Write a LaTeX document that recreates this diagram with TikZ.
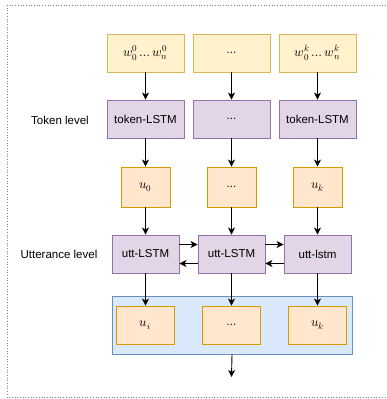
\documentclass[tikz,border=0pt]{standalone}
\usepackage{fontspec}
\setmainfont{Liberation Sans}
\usepackage{unicode-math}
\setmathfont{Latin Modern Math}
\usetikzlibrary{arrows.meta}
\definecolor{yelF}{HTML}{FFF2CC}\definecolor{yelD}{HTML}{D6B656}
\definecolor{purF}{HTML}{E1D5E7}\definecolor{purD}{HTML}{9673A6}
\definecolor{oraF}{HTML}{FFE6CC}\definecolor{oraD}{HTML}{D79B00}
\definecolor{bluF}{HTML}{DAE8FC}\definecolor{bluD}{HTML}{6C8EBF}
\tikzset{
  box/.style={draw, line width=0.9pt, inner sep=0pt, font=\fontsize{11.5}{13}\selectfont},
  wbox/.style={box, fill=yelF, draw=yelD, minimum width=77pt, minimum height=38pt},
  pbox/.style={box, fill=purF, draw=purD, minimum width=77pt, minimum height=38pt},
  ubox/.style={box, fill=purF, draw=purD, minimum width=67pt, minimum height=38pt},
  obox/.style={box, fill=oraF, draw=oraD, minimum width=49pt, minimum height=40pt},
  ibox/.style={box, fill=oraF, draw=oraD, minimum width=58pt, minimum height=38pt},
  mth/.style={font=\fontsize{13}{15}\selectfont},
  lbl/.style={font=\fontsize{11.5}{13}\selectfont, inner sep=0pt},
  arr/.style={-{Stealth[length=7pt,width=7pt,inset=2pt]}, line width=0.9pt},
}
\begin{document}
\begin{tikzpicture}[x=1pt,y=-1pt]
\useasboundingbox (0,0) rectangle (386,399);
\draw[dotted, line width=0.7pt, gray] (7,5) -- (392,5);
\draw[dotted, line width=0.7pt, gray] (7,5) -- (7,397) -- (392,397);
% container
\node[box, fill=bluF, draw=bluD, minimum width=240pt, minimum height=58pt] (cont) at (232,325) {};
% row 1
\node[wbox, mth] (w1) at (145.5,53) {$w_0^0\ldots w_n^0$};
\node[wbox] (w2) at (231.5,53) {...};
\node[wbox, mth] (w3) at (317.5,53) {$w_0^k\ldots w_n^k$};
% row 2
\node[pbox] (t1) at (145.5,119) {token-LSTM};
\node[pbox] (t2) at (231.5,119) {...};
\node[pbox] (t3) at (317.5,119) {token-LSTM};
% row 3
\node[obox, mth] (u1) at (145.5,187) {$u_0$};
\node[obox] (u2) at (231.5,187) {...};
\node[obox, mth] (u3) at (317.5,187) {$u_k$};
% row 4
\node[ubox] (s1) at (145.5,254) {utt-LSTM};
\node[ubox] (s2) at (231.5,254) {utt-LSTM};
\node[ubox] (s3) at (317.5,254) {utt-lstm};
% inner
\node[ibox, mth] (i1) at (145.5,325) {$u_i$};
\node[ibox] (i2) at (231.5,325) {...};
\node[ibox, mth] (i3) at (317.5,325) {$u_k$};
% labels
\node[lbl] (lt) at (60,120) {Token level};
\node[lbl] (lu) at (59,254) {Utterance level};
\coordinate (out) at (231.5,377);
% arrows
\foreach \a/\b in {w1/t1,w2/t2,w3/t3,t1/u1,t2/u2,t3/u3,u1/s1,u2/s2,u3/s3,s1/i1,s2/i2,s3/i3}
  \draw[arr] (\a.south) -- (\b.north);
\draw[arr] ([yshift=9.5pt]s1.east) -- ([yshift=9.5pt]s2.west);
\draw[arr] ([yshift=9.5pt]s2.east) -- ([yshift=9.5pt]s3.west);
\draw[arr] ([yshift=-9.5pt]s2.west) -- ([yshift=-9.5pt]s1.east);
\draw[arr] ([yshift=-9.5pt]s3.west) -- ([yshift=-9.5pt]s2.east);
\draw[arr] (cont.south) -- (out);
\end{tikzpicture}
\end{document}
